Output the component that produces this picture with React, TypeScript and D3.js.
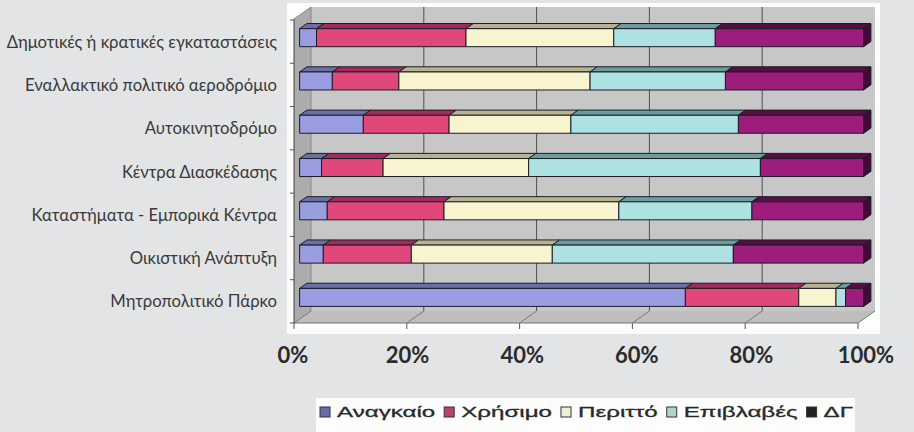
import React, { useEffect, useRef } from "react";
import * as d3 from "d3";

const categories = [
  "Δημοτικές ή κρατικές εγκαταστάσεις",
  "Εναλλακτικό πολιτικό αεροδρόμιο",
  "Αυτοκινητοδρόμο",
  "Κέντρα Διασκέδασης",
  "Καταστήματα - Εμπορικά Κέντρα",
  "Οικιστική Ανάπτυξη",
  "Μητροπολιτικό Πάρκο",
];
const seriesNames = ["Αναγκαίο", "Χρήσιμο", "Περιττό", "Επιβλαβές", "ΔΓ"];
const anagkaio = [3, 5.8, 11.3, 3.9, 4.9, 4.2, 68.4];
const xrisimo = [26.5, 11.8, 15.2, 10.9, 20.7, 15.6, 20.1];
const peritto = [26.2, 33.9, 21.6, 25.8, 31, 25, 6.6];
const epivlaves = [18, 24, 29.7, 41.1, 23.6, 32.1, 1.7];
const dg = [26.3, 24.5, 22.2, 18.3, 19.8, 23.1, 3.2];
const tickValues = [0, 20, 40, 60, 80, 100];

const frontColors = ["#9a9ee0", "#e0487c", "#f7f4cf", "#aee2e2", "#9c1d7c"];
const topColors = ["#6c6fa6", "#a02c5c", "#b7b391", "#6b9d9f", "#560e44"];
const sideColor = "#44093a";
const legendColors = ["#6a6aa8", "#c0406e", "#efefd6", "#acd6ca", "#222222"];

export default function App() {
  const ref = useRef<SVGSVGElement>(null);
  useEffect(() => {
    const svg = d3.select(ref.current);
    svg.selectAll("*").remove();
    const W = 914, H = 432;
    svg.append("rect").attr("width", W).attr("height", H).attr("fill", "#e3e4e5");
    svg.append("rect").attr("x", 287).attr("y", 3).attr("width", 593).attr("height", 331).attr("fill", "#fdfdfd");

    const DX = 17, DY = -12;
    const yTop = 19, yBot = 323;
    const xF = d3.scaleLinear().domain([0, 100]).range([294, 858]);
    const yF = d3.scaleBand<string>().domain(categories).range([20, 323]);
    const P = (v: number, y: number, d: number): [number, number] => [xF(v) + DX * d, y + DY * d];
    const line = d3.line();
    const poly = (pts: [number, number][], fill: string, stroke = "none", g: any = svg) =>
      g.append("path").attr("d", line(pts) + "Z").attr("fill", fill).attr("stroke", stroke)
        .attr("stroke-width", 1).attr("stroke-linejoin", "round");

    // walls
    poly([P(0, yTop, 1), P(100, yTop, 1), P(100, yBot, 1), P(0, yBot, 1)], "#c7c7c7");
    poly([P(0, yTop, 0), P(0, yTop, 1), P(0, yBot, 1), P(0, yBot, 0)], "#acacac");
    poly([P(0, yBot, 0), P(100, yBot, 0), P(100, yBot, 1), P(0, yBot, 1)], "#bebebe");

    // gridlines on back wall and floor
    tickValues.forEach((v) => {
      if (v > 0 && v < 100) {
        svg.append("path").attr("d", line([P(v, yTop, 1), P(v, yBot, 1)])).attr("stroke", "#505050").attr("stroke-width", 1);
      }
      svg.append("path").attr("d", line([P(v, yBot, 0), P(v, yBot, 1)])).attr("stroke", "#7a7a7a").attr("stroke-width", 1);
      svg.append("path").attr("d", line([P(v, yBot, 0), [xF(v), yBot + 6]])).attr("stroke", "#555").attr("stroke-width", 1);
    });
    svg.append("path").attr("d", line([P(0, yTop, 1), P(0, yBot, 1)])).attr("stroke", "#8a8a8a");
    svg.append("path").attr("d", line([P(0, yBot, 0), P(100, yBot, 0)])).attr("stroke", "#777");
    svg.append("path").attr("d", line([P(0, yTop, 0), P(0, yBot, 0)])).attr("stroke", "#444");
    svg.append("path").attr("d", line([P(0, yTop, 0), P(0, yTop, 1)])).attr("stroke", "#888");
    // category ticks on left axis
    const bounds = categories.map((c) => yF(c) as number).concat([yBot]);
    bounds.forEach((y) => {
      svg.append("path").attr("d", line([[xF(0) - 4, y], [xF(0), y]])).attr("stroke", "#555");
    });

    // stacked data
    const table = categories.map((c, i) => ({
      cat: c,
      [seriesNames[0]]: anagkaio[i],
      [seriesNames[1]]: xrisimo[i],
      [seriesNames[2]]: peritto[i],
      [seriesNames[3]]: epivlaves[i],
      [seriesNames[4]]: dg[i],
    }));
    const stacked = d3.stack<any>().keys(seriesNames)(table);
    const d0 = 0.33, d1 = 0.76, half = 9;
    const bars = svg.append("g");
    categories.forEach((c, i) => {
      const yc = (yF(c) as number) + yF.bandwidth() / 2;
      const y0 = yc - half, y1 = yc + half;
      stacked.forEach((layer, k) => {
        const [v0, v1] = layer[i];
        if (v1 - v0 <= 0) return;
        poly([P(v0, y0, d0), P(v1, y0, d0), P(v1, y0, d1), P(v0, y0, d1)], topColors[k], "#1c1c26", bars);
        poly([P(v0, y0, d0), P(v1, y0, d0), P(v1, y1, d0), P(v0, y1, d0)], frontColors[k], "#1c1c26", bars);
        if (k === stacked.length - 1) {
          poly([P(v1, y0, d0), P(v1, y0, d1), P(v1, y1, d1), P(v1, y1, d0)], sideColor, "#1c1c26", bars);
        }
      });
    });

    // category labels
    categories.forEach((c) => {
      svg.append("text").attr("x", 277).attr("y", (yF(c) as number) + yF.bandwidth() / 2)
        .attr("dominant-baseline", "central").attr("text-anchor", "end")
        .attr("font-family", "Lato, 'Open Sans', sans-serif").attr("font-size", 16.7)
        .attr("fill", "#3a3a3a").text(c);
    });

    // tick labels
    const xL = d3.scaleLinear().domain([0, 100]).range([293, 866]);
    tickValues.forEach((v) => {
      svg.append("text").attr("x", xL(v)).attr("y", 363).attr("text-anchor", "middle")
        .attr("font-family", "Lato, sans-serif").attr("font-weight", 700).attr("font-size", 22)
        .attr("fill", "#2b2b2b").text(v + "%");
    });

    // legend
    svg.append("rect").attr("x", 316).attr("y", 398).attr("width", 539).attr("height", 34).attr("fill", "#fdfdfd");
    const lg = svg.append("g").attr("transform", "translate(320,412)");
    const markerW = 10, markerGap = 7, itemGap = 9;
    const texts = seriesNames.map((name) =>
      lg.append("text").attr("dominant-baseline", "central")
        .attr("font-family", "'Liberation Sans', Arial, sans-serif").attr("font-size", 14)
        .attr("fill", "#2a2a2a").attr("stroke", "#2a2a2a").attr("stroke-width", 0.3).text(name)
    );
    const widths = texts.map((t) => (t.node() as SVGTextElement).getComputedTextLength());
    const totalText = d3.sum(widths);
    const avail = (853 - 320) - seriesNames.length * (markerW + markerGap) - (seriesNames.length - 1) * itemGap;
    const sx = avail / totalText;
    let cx = 0;
    seriesNames.forEach((name, k) => {
      lg.append("rect").attr("x", cx).attr("y", -5).attr("width", markerW).attr("height", 10)
        .attr("fill", legendColors[k]).attr("stroke", "#333").attr("stroke-width", 1);
      texts[k].attr("transform", `translate(${cx + markerW + markerGap},0) scale(${sx},1)`);
      cx += markerW + markerGap + widths[k] * sx + itemGap;
    });
  }, []);
  return (
    <svg ref={ref} width={914} height={432} style={{ position: "absolute", left: 0, top: 0, display: "block" }} />
  );
}
